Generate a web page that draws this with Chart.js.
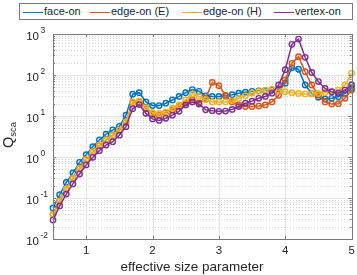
<!DOCTYPE html>
<html>
<head>
<meta charset="utf-8">
<script src="https://cdn.jsdelivr.net/npm/chart.js@4.4.0/dist/chart.umd.min.js"></script>
<style>
  html, body { margin: 0; padding: 0; background: #fff; }
  #wrap { position: relative; width: 357px; height: 275px; font-family: "Liberation Sans", Arial, sans-serif; color: #262626; }
  #c { position: absolute; left: 0; top: 0; }
  #legend { position: absolute; left: 19px; top: 3px; width: 334px; height: 17px; border: 1px solid #7a7a7a; box-sizing: border-box; background: #fff; font-size: 11px; }
  .item { position: absolute; top: 0; height: 15px; line-height: 15px; white-space: nowrap; }
  .item i { display: inline-block; width: 20px; height: 0; border-top: 1.5px solid; vertical-align: middle; margin-right: 1px; }
  #xtitle { position: absolute; left: 0; width: 384px; top: 259px; text-align: center; font-size: 13.5px; }
  #ytitle { position: absolute; left: 8px; top: 135px; font-size: 14.5px; white-space: nowrap; transform: translate(-50%, -50%) rotate(-90deg); }
  #ytitle span { font-size: 9.5px; position: relative; top: 3px; }
</style>
</head>
<body>
<div id="wrap">
  <canvas id="c" width="357" height="275"></canvas>
  <div id="legend"></div>
  <div id="xtitle">effective size parameter</div>
  <div id="ytitle">Q<span>sca</span></div>
</div>
<script>
/* scattering efficiency vs effective size parameter, four orientations */
var sizeParam = [0.5, 0.6, 0.7, 0.8, 0.9, 1.0, 1.1, 1.2, 1.3, 1.4, 1.5, 1.6, 1.7, 1.8, 1.9, 2.0,
  2.1, 2.2, 2.3, 2.4, 2.5, 2.6, 2.7, 2.8, 2.9, 3.0, 3.1, 3.2, 3.3, 3.4, 3.5, 3.6, 3.7, 3.8, 3.9, 4.0,
  4.1, 4.2, 4.3, 4.4, 4.5, 4.6, 4.7, 4.8, 4.9, 5.0];

var faceOn = [0.057, 0.12, 0.24, 0.41, 0.74, 1.14, 1.78, 2.6, 3.6, 4.6, 5.6, 10.5, 34, 37, 22, 18,
  18, 20.5, 24.6, 30, 37, 44, 40, 31, 30, 30, 31, 33, 36, 38, 40, 41, 42, 43, 45, 63,
  150, 138, 57, 35, 28.5, 26, 27, 29.5, 35.6, 47];
var edgeOnE = [0.040, 0.084, 0.164, 0.30, 0.52, 0.87, 1.33, 1.93, 2.6, 3.35, 4.5, 7.0, 21, 22, 15, 11,
  10.5, 12, 14, 17, 20.5, 24.6, 21, 27, 66, 55, 32, 22, 18.6, 17, 17, 17.5, 18.6, 22, 32, 76,
  193, 280, 120, 57, 32, 22, 19.5, 20, 27, 43];
var edgeOnH = [0.040, 0.085, 0.166, 0.30, 0.53, 0.88, 1.35, 1.96, 2.65, 3.4, 4.6, 7.2, 22, 23, 16, 12,
  11.5, 12.5, 15.5, 18.6, 24.6, 34, 30, 25, 22, 22, 22, 23.5, 27, 31, 36, 40, 43, 45, 42, 39,
  37, 35.6, 34.5, 34.5, 35.6, 37, 39, 43, 57, 110];
var vertexOn = [0.029, 0.064, 0.125, 0.22, 0.385, 0.64, 0.98, 1.43, 1.96, 2.36, 3.4, 5.5, 15, 19, 11.6, 8.5,
  7.8, 8.8, 10.5, 13, 18.6, 22, 19.5, 14.2, 13.5, 13, 13.2, 14.5, 17, 20.5, 23, 27, 30, 36, 57, 135,
  560, 750, 270, 115, 69, 47, 39, 36, 43, 57];

var seriesNames = ['face-on', 'edge-on (E)', 'edge-on (H)', 'vertex-on'];
var seriesColors = ['#0072BD', '#D95319', '#EDB120', '#7E2F8E'];
var xTicks = [1, 2, 3, 4, 5];
var yExponents = [-2, -1, 0, 1, 2, 3];
var legendLeft = [3, 70, 162, 254];

(function () {
  var series = [faceOn, edgeOnE, edgeOnH, vertexOn];

  var lg = document.getElementById('legend');
  lg.innerHTML = seriesNames.map(function (n, i) {
    return '<div class="item" style="left:' + legendLeft[i] + 'px"><i style="border-color:' + seriesColors[i] + '"></i>' + n + '</div>';
  }).join('');

  var datasets = series.map(function (vals, i) {
    return {
      label: seriesNames[i],
      data: sizeParam.map(function (x, j) { return { x: x, y: vals[j] }; }),
      borderColor: seriesColors[i], borderWidth: 1.5,
      pointStyle: 'circle', pointRadius: 2.7, pointBorderWidth: 1.4,
      pointBorderColor: seriesColors[i], pointBackgroundColor: 'rgba(255,255,255,0)',
      tension: 0, clip: false,
      order: series.length - 1 - i   // later series drawn on top, like matlab
    };
  });

  function px(v) { return Math.round(v) + 0.5; }

  var frame = {
    id: 'frame',
    beforeDatasetsDraw: function (chart) {
      var ctx = chart.ctx, a = chart.chartArea, xs = chart.scales.x, ys = chart.scales.y;
      ctx.save();
      ctx.lineWidth = 1;
      // minor y grid (dotted)
      ctx.strokeStyle = '#d6d6d6';
      ctx.setLineDash([1, 2]);
      yExponents.slice(0, -1).forEach(function (e) {
        for (var m = 2; m <= 9; m++) {
          var y = px(ys.getPixelForValue(m * Math.pow(10, e)));
          ctx.beginPath(); ctx.moveTo(a.left, y); ctx.lineTo(a.right, y); ctx.stroke();
        }
      });
      ctx.setLineDash([]);
      // major grid
      ctx.strokeStyle = '#e4e4e4';
      yExponents.forEach(function (e) {
        var y = px(ys.getPixelForValue(Math.pow(10, e)));
        ctx.beginPath(); ctx.moveTo(a.left, y); ctx.lineTo(a.right, y); ctx.stroke();
      });
      xTicks.forEach(function (t) {
        var x = px(xs.getPixelForValue(t));
        ctx.beginPath(); ctx.moveTo(x, a.top); ctx.lineTo(x, a.bottom); ctx.stroke();
      });
      ctx.restore();
    },
    afterDraw: function (chart) {
      var ctx = chart.ctx, a = chart.chartArea, xs = chart.scales.x, ys = chart.scales.y;
      ctx.save();
      ctx.strokeStyle = '#7a7a7a'; ctx.lineWidth = 1;
      ctx.strokeRect(px(a.left), px(a.top), Math.round(a.right - a.left), Math.round(a.bottom - a.top));
      // tick marks, inward, all four sides
      ctx.beginPath();
      xTicks.forEach(function (t) {
        var x = px(xs.getPixelForValue(t));
        ctx.moveTo(x, a.bottom); ctx.lineTo(x, a.bottom - 3);
        ctx.moveTo(x, a.top); ctx.lineTo(x, a.top + 3);
      });
      yExponents.forEach(function (e, k) {
        var y = px(ys.getPixelForValue(Math.pow(10, e)));
        ctx.moveTo(a.left, y); ctx.lineTo(a.left + 3, y);
        ctx.moveTo(a.right, y); ctx.lineTo(a.right - 3, y);
        if (k === yExponents.length - 1) return;
        for (var m = 2; m <= 9; m++) {
          var ym = px(ys.getPixelForValue(m * Math.pow(10, e)));
          ctx.moveTo(a.left, ym); ctx.lineTo(a.left + 2, ym);
          ctx.moveTo(a.right, ym); ctx.lineTo(a.right - 2, ym);
        }
      });
      ctx.stroke();
      // tick labels
      ctx.fillStyle = '#262626';
      ctx.font = '11.5px "Liberation Sans", Arial, sans-serif';
      ctx.textAlign = 'center'; ctx.textBaseline = 'middle';
      xTicks.forEach(function (t) {
        ctx.fillText(String(t), xs.getPixelForValue(t), a.bottom + 12);
      });
      yExponents.forEach(function (e) {
        var y = ys.getPixelForValue(Math.pow(10, e));
        ctx.font = '11.5px "Liberation Sans", Arial, sans-serif';
        ctx.textAlign = 'right';
        ctx.fillText('10', 39, y + 2.5);
        ctx.font = '8.5px "Liberation Sans", Arial, sans-serif';
        ctx.textAlign = 'left';
        ctx.fillText(String(e), 40.5, y - 3);
      });
      ctx.restore();
    }
  };

  new Chart(document.getElementById('c').getContext('2d'), {
    type: 'line',
    data: { datasets: datasets },
    options: {
      responsive: false, animation: false, devicePixelRatio: 1,
      layout: { padding: { left: 0, right: 4, top: 34, bottom: 0 } },
      plugins: { legend: { display: false }, tooltip: { enabled: false } },
      scales: {
        x: {
          type: 'linear', min: 0.5, max: 5,
          grid: { display: false }, border: { display: false }, ticks: { display: false },
          afterFit: function (s) { s.height = 36; }
        },
        y: {
          type: 'logarithmic', min: 0.01, max: 1000,
          grid: { display: false }, border: { display: false }, ticks: { display: false },
          afterFit: function (s) { s.width = 53; }
        }
      }
    },
    plugins: [frame]
  });
})();
</script>
</body>
</html>
